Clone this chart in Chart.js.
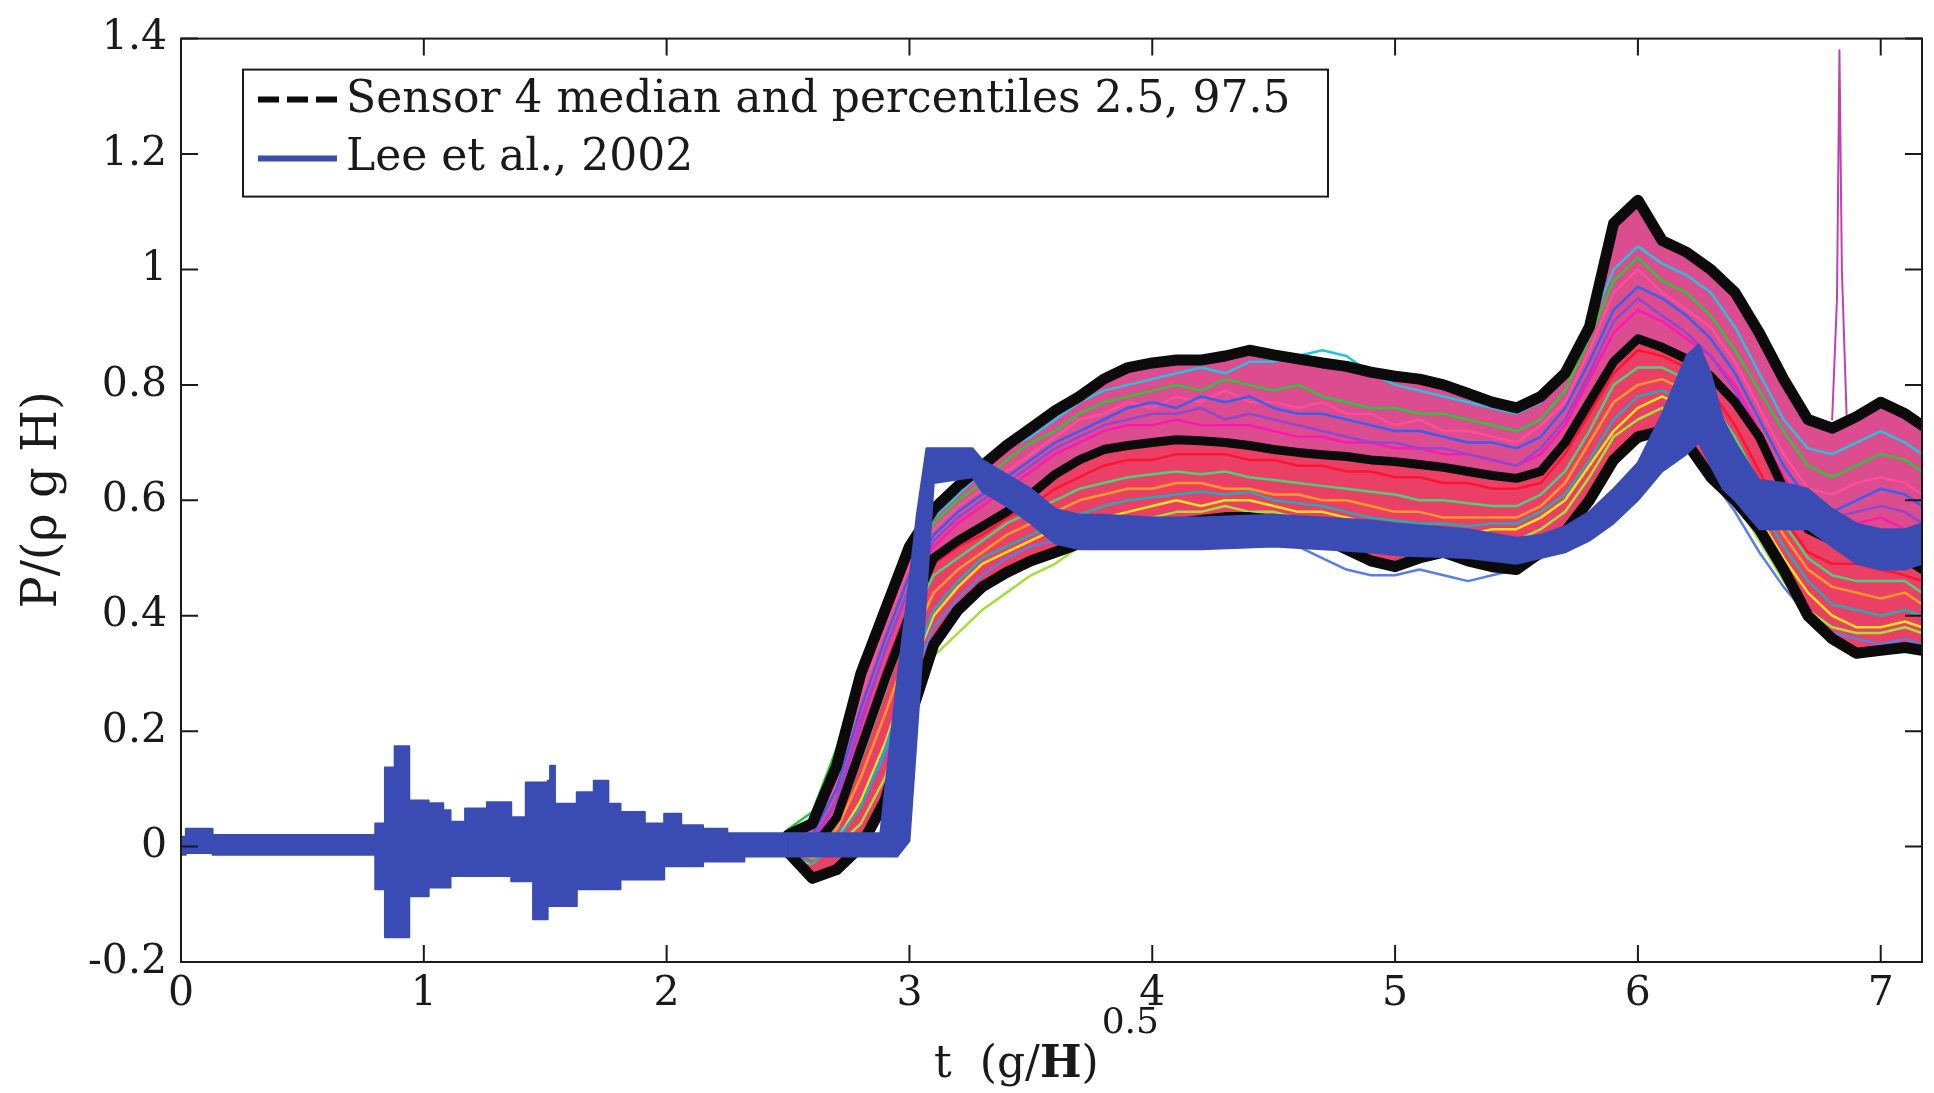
<!DOCTYPE html>
<html>
<head>
<meta charset="utf-8">
<script src="https://cdn.jsdelivr.net/npm/chart.js@4.4.1/dist/chart.umd.min.js"></script>
<style>
  html, body { margin: 0; padding: 0; background: #fff; }
  canvas { display: block; }
</style>
</head>
<body>
<canvas id="myChart" width="1934" height="1093"></canvas>
<script>
// ticks
const xTicks = [0, 1, 2, 3, 4, 5, 6, 7];
const yTicks = [-0.2, 0, 0.2, 0.4, 0.6, 0.8, 1, 1.2, 1.4];

// time grid of the sensor runs, t (g/H)^0.5
const tRuns = [2.5, 2.6, 2.7, 2.8, 2.9, 3.0, 3.1, 3.2, 3.3, 3.4,
  3.5, 3.6, 3.7, 3.8, 3.9, 4.0, 4.1, 4.2, 4.3, 4.4,
  4.5, 4.6, 4.7, 4.8, 4.9, 5.0, 5.1, 5.2, 5.3, 5.4,
  5.5, 5.6, 5.7, 5.8, 5.9, 6.0, 6.1, 6.2, 6.3, 6.4,
  6.5, 6.6, 6.7, 6.8, 6.9, 7.0, 7.1, 7.17];

// sensor 4 percentiles
const p975 = [0.02, 0.04, 0.14, 0.30, 0.41, 0.52, 0.585, 0.625, 0.66, 0.695,
  0.725, 0.755, 0.78, 0.81, 0.83, 0.838, 0.843, 0.843, 0.85, 0.86,
  0.852, 0.845, 0.838, 0.832, 0.822, 0.815, 0.81, 0.80, 0.785, 0.77,
  0.76, 0.78, 0.82, 0.90, 1.08, 1.12, 1.05, 1.03, 1.00, 0.96,
  0.89, 0.81, 0.74, 0.725, 0.745, 0.77, 0.75, 0.73];
const p50 = [0.0, -0.005, 0.05, 0.17, 0.29, 0.40, 0.50, 0.53, 0.555, 0.58,
  0.61, 0.645, 0.67, 0.688, 0.695, 0.70, 0.705, 0.703, 0.70, 0.695,
  0.688, 0.683, 0.679, 0.676, 0.67, 0.667, 0.662, 0.657, 0.65, 0.643,
  0.638, 0.65, 0.70, 0.77, 0.84, 0.88, 0.865, 0.845, 0.815, 0.77,
  0.71, 0.62, 0.55, 0.53, 0.53, 0.52, 0.50, 0.48];
const p025 = [-0.01, -0.055, -0.04, 0.0, 0.08, 0.22, 0.35, 0.41, 0.45, 0.475,
  0.495, 0.51, 0.525, 0.54, 0.55, 0.555, 0.56, 0.565, 0.57, 0.57,
  0.565, 0.555, 0.535, 0.515, 0.495, 0.485, 0.50, 0.51, 0.495, 0.485,
  0.48, 0.51, 0.545, 0.60, 0.67, 0.71, 0.72, 0.70, 0.64, 0.60,
  0.55, 0.48, 0.40, 0.36, 0.335, 0.34, 0.345, 0.34];

// a few single runs (thin coloured traces)
const runGreen = [0.03, 0.06, 0.17, 0.32, 0.42, 0.50, 0.56, 0.60, 0.63, 0.67,
  0.70, 0.72, 0.75, 0.77, 0.78, 0.79, 0.80, 0.79, 0.81, 0.80,
  0.79, 0.80, 0.78, 0.77, 0.76, 0.76, 0.75, 0.75, 0.74, 0.73,
  0.72, 0.74, 0.79, 0.88, 0.98, 1.02, 0.98, 0.96, 0.92, 0.86,
  0.79, 0.72, 0.66, 0.64, 0.66, 0.68, 0.67, 0.65];
const runBlue = [0.01, 0.02, 0.10, 0.24, 0.36, 0.47, 0.54, 0.58, 0.61, 0.64,
  0.67, 0.70, 0.72, 0.74, 0.76, 0.77, 0.76, 0.78, 0.77, 0.78,
  0.76, 0.75, 0.75, 0.74, 0.73, 0.72, 0.72, 0.71, 0.70, 0.70,
  0.69, 0.71, 0.76, 0.84, 0.93, 0.97, 0.95, 0.92, 0.88, 0.82,
  0.74, 0.66, 0.60, 0.58, 0.60, 0.62, 0.61, 0.59];
const runCyan = [0.02, 0.05, 0.15, 0.31, 0.43, 0.52, 0.57, 0.61, 0.65, 0.69,
  0.71, 0.74, 0.77, 0.79, 0.80, 0.81, 0.82, 0.83, 0.82, 0.84,
  0.84, 0.85, 0.86, 0.85, 0.82, 0.80, 0.79, 0.78, 0.77, 0.76,
  0.75, 0.77, 0.81, 0.90, 1.00, 1.04, 1.01, 0.99, 0.96, 0.90,
  0.82, 0.74, 0.69, 0.68, 0.70, 0.72, 0.70, 0.68];
const runPink = [0.01, 0.02, 0.11, 0.26, 0.38, 0.49, 0.55, 0.59, 0.62, 0.65,
  0.68, 0.71, 0.74, 0.75, 0.77, 0.76, 0.78, 0.77, 0.79, 0.77,
  0.77, 0.76, 0.77, 0.75, 0.75, 0.73, 0.74, 0.72, 0.72, 0.71,
  0.70, 0.73, 0.77, 0.86, 0.96, 1.00, 0.96, 0.93, 0.90, 0.84,
  0.76, 0.68, 0.62, 0.61, 0.63, 0.64, 0.63, 0.61];
const runYellow = [-0.02, -0.03, 0.01, 0.08, 0.18, 0.30, 0.40, 0.45, 0.49, 0.51,
  0.53, 0.55, 0.56, 0.57, 0.58, 0.59, 0.60, 0.59, 0.60, 0.60,
  0.59, 0.58, 0.58, 0.57, 0.56, 0.55, 0.55, 0.54, 0.54, 0.55,
  0.55, 0.57, 0.60, 0.66, 0.72, 0.76, 0.78, 0.76, 0.71, 0.64,
  0.57, 0.50, 0.44, 0.40, 0.38, 0.38, 0.39, 0.38];
const runOrange = [-0.01, -0.02, 0.03, 0.12, 0.23, 0.35, 0.44, 0.48, 0.51, 0.54,
  0.56, 0.58, 0.60, 0.61, 0.62, 0.62, 0.63, 0.63, 0.62, 0.62,
  0.61, 0.61, 0.60, 0.60, 0.59, 0.58, 0.58, 0.57, 0.57, 0.57,
  0.57, 0.59, 0.63, 0.70, 0.77, 0.80, 0.81, 0.79, 0.75, 0.68,
  0.61, 0.54, 0.48, 0.45, 0.44, 0.43, 0.44, 0.42];
const runTeal = [-0.01, -0.03, 0.01, 0.07, 0.17, 0.30, 0.41, 0.46, 0.50, 0.52,
  0.54, 0.56, 0.575, 0.59, 0.60, 0.605, 0.61, 0.615, 0.61, 0.615,
  0.60, 0.595, 0.59, 0.58, 0.57, 0.565, 0.56, 0.56, 0.555, 0.56,
  0.56, 0.58, 0.61, 0.67, 0.74, 0.78, 0.79, 0.77, 0.73, 0.66,
  0.59, 0.52, 0.46, 0.42, 0.41, 0.40, 0.41, 0.40];
const runGreen2 = [0.0, -0.02, 0.04, 0.15, 0.27, 0.39, 0.47, 0.50, 0.53, 0.56,
  0.58, 0.60, 0.62, 0.63, 0.64, 0.645, 0.65, 0.645, 0.65, 0.64,
  0.635, 0.63, 0.625, 0.62, 0.615, 0.61, 0.60, 0.60, 0.595, 0.59,
  0.59, 0.61, 0.65, 0.72, 0.80, 0.83, 0.83, 0.81, 0.77, 0.71,
  0.63, 0.56, 0.50, 0.47, 0.46, 0.46, 0.46, 0.44];
const runPurple = [0.0, 0.01, 0.08, 0.21, 0.34, 0.45, 0.53, 0.57, 0.60, 0.63,
  0.66, 0.69, 0.71, 0.73, 0.74, 0.75, 0.75, 0.76, 0.74, 0.75,
  0.74, 0.73, 0.72, 0.71, 0.70, 0.70, 0.69, 0.69, 0.68, 0.67,
  0.66, 0.69, 0.74, 0.82, 0.91, 0.95, 0.92, 0.89, 0.85, 0.79,
  0.71, 0.63, 0.58, 0.57, 0.58, 0.59, 0.58, 0.56];
const runLime = [0.0, -0.02, 0.0, 0.04, 0.12, 0.27, 0.33, 0.37, 0.41, 0.44,
  0.47, 0.49, 0.52, 0.55, 0.56, 0.57, 0.58, 0.58, 0.59, 0.58,
  0.58, 0.57, 0.56, 0.55, 0.54, 0.53, 0.53, 0.52, 0.52, 0.52,
  0.53, 0.55, 0.58, 0.64, 0.71, 0.74, 0.76, 0.73, 0.67, 0.60,
  0.53, 0.46, 0.41, 0.38, 0.37, 0.37, 0.38, 0.37];
const runSky = [0.0, 0.0, 0.02, 0.07, 0.16, 0.28, 0.38, 0.43, 0.47, 0.50,
  0.52, 0.53, 0.55, 0.55, 0.56, 0.56, 0.56, 0.55, 0.56, 0.55,
  0.54, 0.52, 0.50, 0.48, 0.47, 0.47, 0.48, 0.47, 0.46, 0.47,
  0.48, 0.50, 0.54, 0.60, 0.66, 0.70, 0.72, 0.70, 0.64, 0.58,
  0.51, 0.45, 0.40, 0.37, 0.36, 0.35, 0.36, 0.35];
const runRed = [0.0, -0.01, 0.06, 0.19, 0.31, 0.42, 0.49, 0.52, 0.54, 0.57,
  0.59, 0.62, 0.64, 0.66, 0.67, 0.67, 0.68, 0.68, 0.68, 0.67,
  0.67, 0.66, 0.66, 0.65, 0.65, 0.64, 0.64, 0.63, 0.63, 0.62,
  0.62, 0.63, 0.68, 0.75, 0.82, 0.86, 0.85, 0.83, 0.79, 0.73,
  0.65, 0.57, 0.51, 0.49, 0.49, 0.48, 0.47, 0.46];
const runMagenta = [0.01, 0.0, 0.08, 0.22, 0.34, 0.45, 0.52, 0.56, 0.59, 0.62,
  0.65, 0.68, 0.70, 0.72, 0.73, 0.73, 0.74, 0.73, 0.73, 0.73,
  0.72, 0.71, 0.71, 0.70, 0.70, 0.69, 0.69, 0.68, 0.68, 0.67,
  0.66, 0.68, 0.73, 0.81, 0.89, 0.93, 0.91, 0.88, 0.85, 0.80,
  0.72, 0.64, 0.58, 0.56, 0.56, 0.57, 0.55, 0.53];

// one run with a sharp spike near the end
const tSpike = [6.80, 6.82, 6.83, 6.84, 6.86];
const spikeVals = [0.74, 0.95, 1.38, 1.0, 0.74];

// Lee et al. 2002: oscillating start (upper / lower envelope, step-wise)
const tLeeNoise = [0.00, 0.02, 0.13, 0.80, 0.84, 0.88, 0.94, 1.02, 1.08, 1.11,
  1.17, 1.26, 1.36, 1.42, 1.45, 1.51, 1.52, 1.54, 1.63, 1.70,
  1.76, 1.81, 1.91, 1.99, 2.06, 2.15, 2.25, 2.32, 2.50];
const leeNoiseHi = [0.017, 0.031, 0.020, 0.040, 0.137, 0.174, 0.080, 0.075, 0.063, 0.043,
  0.066, 0.077, 0.051, 0.111, 0.111, 0.114, 0.140, 0.074, 0.094, 0.114,
  0.074, 0.060, 0.040, 0.057, 0.037, 0.031, 0.023, 0.023, 0.023];
const leeNoiseLo = [-0.014, -0.011, -0.014, -0.074, -0.157, -0.157, -0.086, -0.071, -0.071, -0.051,
  -0.051, -0.051, -0.060, -0.060, -0.126, -0.103, -0.103, -0.103, -0.074, -0.074,
  -0.074, -0.057, -0.057, -0.034, -0.034, -0.026, -0.026, -0.017, -0.017];

// Lee et al. 2002: after impact (upper / lower edge of the thick line)
const tLee = [2.50, 2.88, 2.95, 3.00, 3.03, 3.07, 3.10, 3.26, 3.30, 3.40,
  3.50, 3.60, 3.70, 3.80, 4.00, 4.20, 4.50, 4.70, 4.90, 5.00,
  5.30, 5.50, 5.60, 5.70, 5.80, 5.90, 6.00, 6.10, 6.20, 6.25,
  6.30, 6.35, 6.40, 6.50, 6.60, 6.70, 6.80, 6.90, 7.00, 7.10,
  7.17];
const leeHi = [0.023, 0.023, 0.29, 0.46, 0.574, 0.69, 0.69, 0.69, 0.67, 0.645,
  0.62, 0.585, 0.575, 0.575, 0.57, 0.57, 0.575, 0.57, 0.565, 0.56,
  0.55, 0.535, 0.54, 0.555, 0.58, 0.62, 0.665, 0.75, 0.85, 0.87,
  0.82, 0.74, 0.70, 0.635, 0.63, 0.62, 0.585, 0.56, 0.55, 0.55,
  0.56];
const leeLo = [-0.017, -0.017, -0.017, 0.01, 0.19, 0.44, 0.63, 0.64, 0.615, 0.59,
  0.56, 0.525, 0.515, 0.515, 0.515, 0.515, 0.52, 0.515, 0.51, 0.505,
  0.50, 0.49, 0.50, 0.51, 0.53, 0.56, 0.60, 0.65, 0.68, 0.70,
  0.66, 0.62, 0.60, 0.55, 0.55, 0.55, 0.52, 0.49, 0.48, 0.48,
  0.49];

const BLUE = "#3a4cb4";
const BLACK = "#0b0b0b";
const SERIF = '"DejaVu Serif", "Liberation Serif", serif';

const pts = (ts, vs) => ts.map((t, i) => ({ x: t, y: vs[i] }));

const runs = [
  [runGreen, "#2cc63a"],
  [runBlue, "#3a5ff0"],
  [runCyan, "#26c2de"],
  [runPink, "#ff4f9c"],
  [runPurple, "#9048d0"],
  [runMagenta, "#ff18b4"],
  [runRed, "#ff1530"],
  [runGreen2, "#4cd07a"],
  [runOrange, "#ff9a26"],
  [runTeal, "#28aab4"],
  [runYellow, "#f4e21c"],
  [runLime, "#a2e03a"],
  [runSky, "#5b7fe0"],
];

const datasets = [
  // Lee et al. on top (fill between edges)
  { data: pts(tLee, leeHi), borderColor: BLUE, borderWidth: 2, fill: false, order: 0 },
  { data: pts(tLee, leeLo), borderColor: BLUE, borderWidth: 2, backgroundColor: BLUE, fill: "-1", order: 0 },
  { data: pts(tLeeNoise, leeNoiseHi), borderColor: BLUE, borderWidth: 2, stepped: true, fill: false, order: 0 },
  { data: pts(tLeeNoise, leeNoiseLo), borderColor: BLUE, borderWidth: 2, stepped: true, backgroundColor: BLUE, fill: "-1", order: 0 },
  // median and percentiles
  { data: pts(tRuns, p975), borderColor: BLACK, borderWidth: 11, order: 1 },
  { data: pts(tRuns, p50), borderColor: BLACK, borderWidth: 9, order: 1 },
  { data: pts(tRuns, p025), borderColor: BLACK, borderWidth: 11, order: 1 },
];

runs.forEach(([vals, col]) => {
  datasets.push({ data: pts(tRuns, vals), borderColor: col, borderWidth: 2.5, order: 5 });
});
datasets.push({ data: pts(tSpike, spikeVals), borderColor: "#c040b0", borderWidth: 2, order: 5 });

// coloured band of all runs (under everything)
const bandTop = datasets.length;
datasets.push({ data: pts(tRuns, p975), borderWidth: 0, borderColor: "rgba(0,0,0,0)", order: 9 });
datasets.push({ data: pts(tRuns, p50), borderWidth: 0, borderColor: "rgba(0,0,0,0)",
  backgroundColor: "rgba(216,62,132,0.92)", fill: bandTop, order: 9 });
datasets.push({ data: pts(tRuns, p025), borderWidth: 0, borderColor: "rgba(0,0,0,0)",
  backgroundColor: "rgba(232,48,88,0.92)", fill: bandTop + 1, order: 9 });

// frame with inward ticks, axis titles and boxed legend (matlab look)
const matlabFrame = {
  id: "matlabFrame",
  afterDraw(chart) {
    const { ctx, chartArea: a, scales } = chart;
    const x = scales.x, y = scales.y;
    ctx.save();
    ctx.strokeStyle = "#1a1a1a";
    ctx.lineWidth = 2;
    ctx.strokeRect(a.left, a.top, a.right - a.left, a.bottom - a.top);

    const tl = 17;
    ctx.beginPath();
    xTicks.forEach((v) => {
      const px = x.getPixelForValue(v);
      ctx.moveTo(px, a.bottom); ctx.lineTo(px, a.bottom - tl);
      ctx.moveTo(px, a.top); ctx.lineTo(px, a.top + tl);
    });
    yTicks.forEach((v) => {
      const py = y.getPixelForValue(v);
      ctx.moveTo(a.left, py); ctx.lineTo(a.left + tl, py);
      ctx.moveTo(a.right, py); ctx.lineTo(a.right - tl, py);
    });
    ctx.stroke();

    // y title
    ctx.fillStyle = "#1a1a1a";
    ctx.font = "48px " + SERIF;
    ctx.save();
    ctx.translate(44, 500);
    ctx.rotate(-Math.PI / 2);
    ctx.textAlign = "center";
    ctx.textBaseline = "middle";
    ctx.fillText("P/(ρ g H)", 0, 0);
    ctx.restore();

    // x title: t (g/H)^0.5
    const fN = "44px " + SERIF, fB = "bold 44px " + SERIF, fS = "36px " + SERIF;
    const parts = [["t  (g/", fN], ["H", fB], [")", fN]];
    let w = 0;
    parts.forEach(([s, f]) => { ctx.font = f; w += ctx.measureText(s).width; });
    ctx.font = fS;
    const wSup = ctx.measureText("0.5").width;
    let cx = (a.left + a.right) / 2 - 5 - (w + wSup + 3) / 2;
    ctx.textAlign = "left";
    ctx.textBaseline = "alphabetic";
    parts.forEach(([s, f]) => {
      ctx.font = f;
      ctx.fillText(s, cx, 1077);
      cx += ctx.measureText(s).width;
    });
    ctx.font = fS;
    ctx.fillText("0.5", cx + 3, 1033);

    // legend box
    const lx = a.left + 62, ly = a.top + 31, lw = 1085, lh = 127;
    ctx.fillStyle = "#fff";
    ctx.fillRect(lx, ly, lw, lh);
    ctx.strokeStyle = "#1a1a1a";
    ctx.lineWidth = 2;
    ctx.strokeRect(lx, ly, lw, lh);

    ctx.lineWidth = 6;
    ctx.strokeStyle = BLACK;
    ctx.setLineDash([21, 8]);
    ctx.beginPath();
    ctx.moveTo(lx + 15, ly + 30); ctx.lineTo(lx + 94, ly + 30);
    ctx.stroke();
    ctx.setLineDash([]);
    ctx.strokeStyle = BLUE;
    ctx.beginPath();
    ctx.moveTo(lx + 15, ly + 89); ctx.lineTo(lx + 94, ly + 89);
    ctx.stroke();

    ctx.fillStyle = "#1a1a1a";
    ctx.font = "44px " + SERIF;
    ctx.fillText("Sensor 4 median and percentiles 2.5, 97.5", lx + 103, ly + 42);
    ctx.fillText("Lee et al., 2002", lx + 103, ly + 100);
    ctx.restore();
  },
};

const tickFont = { family: SERIF, size: 41 };

new Chart(document.getElementById("myChart"), {
  type: "line",
  data: { datasets: datasets },
  plugins: [matlabFrame],
  options: {
    responsive: false,
    devicePixelRatio: 1,
    animation: false,
    events: [],
    layout: { padding: { left: 0, right: 12, top: 33, bottom: 0 } },
    elements: {
      point: { radius: 0 },
      line: { tension: 0, borderJoinStyle: "round", borderCapStyle: "round", fill: false },
    },
    scales: {
      x: {
        type: "linear",
        min: 0,
        max: 7.17,
        grid: { display: false, drawTicks: false },
        border: { display: false },
        ticks: { font: tickFont, color: "#1a1a1a", padding: 8, maxRotation: 0, autoSkip: false },
        afterBuildTicks: (s) => { s.ticks = xTicks.map((v) => ({ value: v })); },
        afterFit: (s) => { s.height = 131; },
      },
      y: {
        type: "linear",
        min: -0.2,
        max: 1.4,
        grid: { display: false, drawTicks: false },
        border: { display: false },
        ticks: {
          font: tickFont, color: "#1a1a1a", padding: 14,
          callback: (v) => String(Math.round(v * 10) / 10),
        },
        afterBuildTicks: (s) => { s.ticks = yTicks.map((v) => ({ value: v })); },
        afterFit: (s) => { s.width = 181; },
      },
    },
    plugins: {
      legend: { display: false }, // leyenda dibujada a mano
      tooltip: { enabled: false },
    },
  },
});
</script>
</body>
</html>
